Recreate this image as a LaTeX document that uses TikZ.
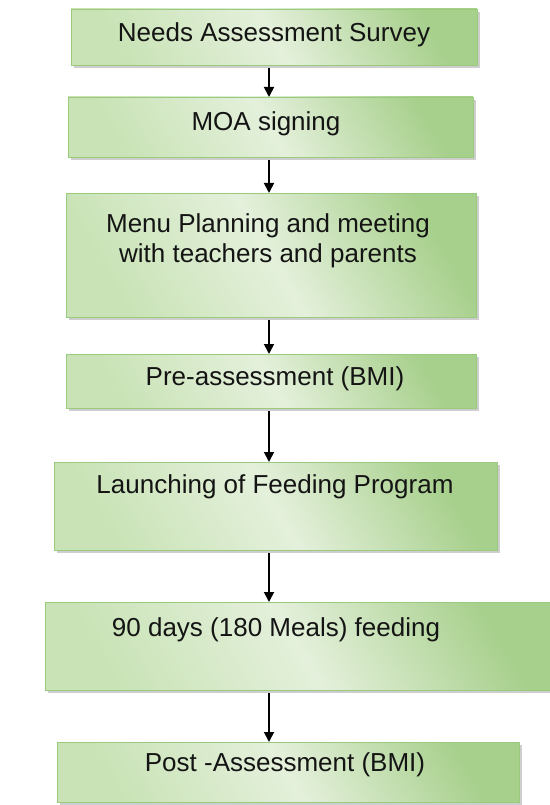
\documentclass[tikz,border=0pt]{standalone}
\usepackage{fontspec}
\setmainfont{Liberation Sans}
\usetikzlibrary{arrows.meta,shadows,calc}
\definecolor{gdark}{HTML}{A8D08D}
\definecolor{gedge}{HTML}{C9E3B6}
\definecolor{glight}{HTML}{E4F0DB}
\definecolor{gborder}{HTML}{9ACB7C}
\begin{document}
\begin{tikzpicture}[x=1pt,y=-1pt,
  box/.style={draw=gborder, line width=0.9pt, inner sep=0pt, outer sep=0pt,
    left color=gedge, right color=gdark, middle color=glight, shading angle=120,
    drop shadow={shadow xshift=3pt, shadow yshift=-3pt, fill=black!38}},
  txt/.style={font=\fontsize{26}{30}\selectfont, inner sep=0pt, text=black!92},
  one/.style={txt, text height=0.72em, text depth=0pt},
  arr/.style={line width=1.8pt, -{Triangle[width=10pt,length=10pt]}}]
\useasboundingbox (0,0) rectangle (549,805);
% boxes
\node[box, minimum width=406pt, minimum height=56pt]  (b1) at (274,37) {};
\node[box, minimum width=405pt, minimum height=60pt]  (b2) at (270.5,127) {};
\node[box, minimum width=410pt, minimum height=124pt] (b3) at (271,255) {};
\node[box, minimum width=410pt, minimum height=54pt]  (b4) at (271,381) {};
\node[box, minimum width=443pt, minimum height=88pt]  (b5) at (275.5,506) {};
\node[box, minimum width=508pt, minimum height=88pt]  (b6) at (299,646) {};
\node[box, minimum width=462pt, minimum height=60pt]  (b7) at (288,772) {};
% texts
\node[one] (t1) at (274,38) {Needs Assessment Survey};
\node[one] (t2) at (266,127) {MOA signing};
\node[txt, align=center, anchor=north] (t3) at (268,213) {Menu Planning and meeting\\with teachers and parents};
\node[one] (t4) at (275,382) {Pre-assessment (BMI)};
\node[one] (t5) at (275,490) {Launching of Feeding Program};
\node[one] (t6) at (276,633) {90 days (180 Meals) feeding};
\node[one] (t7) at (285,768) {Post -Assessment (BMI)};
% connectors
\coordinate (ax) at (269,0);
\draw[arr] ($(b1.south -| ax)+(0,3)$) -- (b2.north -| ax);
\draw[arr] ($(b2.south -| ax)+(0,3)$) -- (b3.north -| ax);
\draw[arr] ($(b3.south -| ax)+(0,3)$) -- (b4.north -| ax);
\draw[arr] ($(b4.south -| ax)+(0,3)$) -- (b5.north -| ax);
\draw[arr] ($(b5.south -| ax)+(0,3)$) -- (b6.north -| ax);
\draw[arr] ($(b6.south -| ax)+(0,3)$) -- (b7.north -| ax);
\end{tikzpicture}
\end{document}
